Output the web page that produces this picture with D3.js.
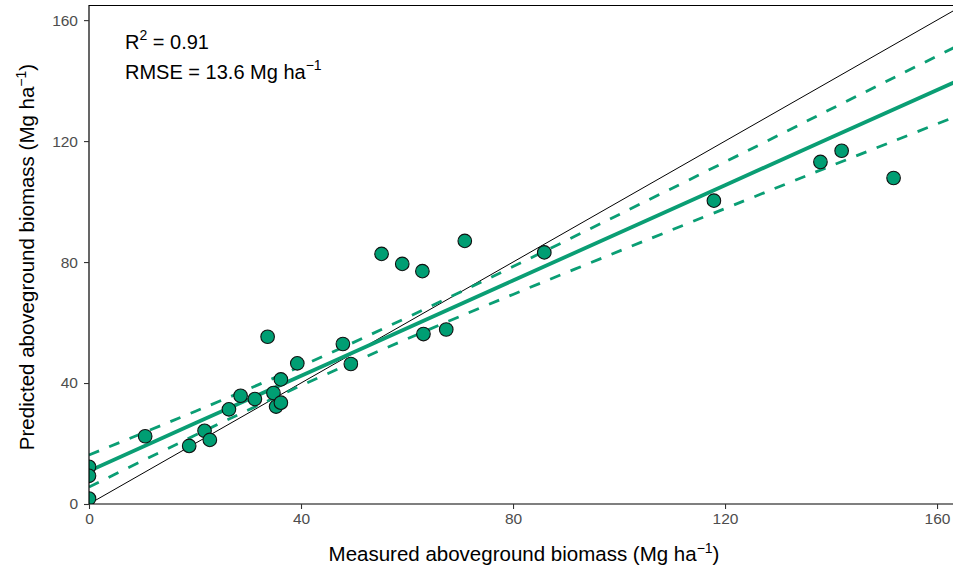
<!DOCTYPE html>
<html>
<head>
<meta charset="utf-8">
<script src="https://cdn.jsdelivr.net/npm/d3@7"></script>
<style>
  html, body { margin: 0; padding: 0; background: #fff; }
  svg { display: block; font-family: "Liberation Sans", Arial, sans-serif; }
</style>
</head>
<body>
<svg id="chart" width="953" height="567"></svg>
<script>
// ---- data: observations ----
const measured = [0, 0, 0, 10.6, 18.9, 21.8, 22.8, 26.4, 28.6, 31.3, 34.8, 35.3, 36.2, 36.2, 33.7, 39.3,
  47.9, 49.4, 55.2, 59.1, 62.9, 63.1, 67.4, 70.9, 85.9, 117.9, 138.0, 142.0, 151.8];
const predicted = [12.3, 9.3, 1.8, 22.4, 19.2, 24.2, 21.2, 31.3, 35.8, 34.7, 36.7, 32.2, 33.5, 41.2, 55.3, 46.5,
  52.9, 46.3, 82.7, 79.4, 77.0, 56.2, 57.7, 87.0, 83.2, 100.3, 113.1, 116.8, 107.8];
// ---- data: fitted regression line and 95% confidence limits ----
const fitX     = [0,    20,   45,   80,   120,   140,   163.2];
const fitMean  = [10.9, 26.7, 46.3, 73.9, 105.4, 121.2, 139.4];
const fitUpper = [16.2, 30.6, 49.5, 78.5, 113.1, 130.6, 150.9];
const fitLower = [5.6,  22.7, 43.1, 69.3, 97.7,  111.8, 127.9];
const xTicks = [0, 40, 80, 120, 160];
const yTicks = [0, 40, 80, 120, 160];
const r2Label = "0.91";
const rmseLabel = "13.6";

(function () {
const svg = d3.select("#chart");
const pLeft = 89, pTop = 5, pBottom = 504, pRight = 954;
const x = d3.scaleLinear().domain([0, 163.2]).range([pLeft, pRight]);
const y = d3.scaleLinear().domain([0, 165]).range([pBottom, pTop]);
const green = "#0A9E74";

svg.append("defs").append("clipPath").attr("id", "clip")
  .append("rect").attr("x", pLeft).attr("y", pTop).attr("width", pRight - pLeft).attr("height", pBottom - pTop);

const pts = measured.map((m, i) => ({ x: m, y: predicted[i] }));
const fit = fitX.map((v, i) => ({ x: v, mean: fitMean[i], hi: fitUpper[i], lo: fitLower[i] }));

const plot = svg.append("g").attr("clip-path", "url(#clip)");

// 1:1 line
plot.append("line")
  .attr("x1", x(0)).attr("y1", y(0)).attr("x2", x(170)).attr("y2", y(170))
  .attr("stroke", "#000").attr("stroke-width", 1);

const line = key => d3.line().curve(d3.curveNatural).x(d => x(d.x)).y(d => y(d[key]));
["hi", "lo"].forEach(k => {
  plot.append("path").datum(fit).attr("d", line(k))
    .attr("fill", "none").attr("stroke", green).attr("stroke-width", 2.8)
    .attr("stroke-dasharray", "11,11");
});
plot.append("path").datum(fit).attr("d", d3.line().x(d => x(d.x)).y(d => y(d.mean)))
  .attr("fill", "none").attr("stroke", green).attr("stroke-width", 3.8);

// points
plot.selectAll("circle").data(pts).join("circle")
  .attr("cx", d => x(d.x)).attr("cy", d => y(d.y)).attr("r", 6.8)
  .attr("fill", "#009E73").attr("stroke", "#111").attr("stroke-width", 1.1);

// panel top border
svg.append("line").attr("x1", pLeft).attr("x2", pRight).attr("y1", pTop + 0.5).attr("y2", pTop + 0.5)
  .attr("stroke", "#000").attr("stroke-width", 1);

// axes
const xAxis = svg.append("g").attr("transform", `translate(0,${pBottom})`)
  .call(d3.axisBottom(x).tickValues(xTicks).tickSize(5).tickPadding(4));
const yAxis = svg.append("g").attr("transform", `translate(${pLeft},0)`)
  .call(d3.axisLeft(y).tickValues(yTicks).tickSize(5).tickPadding(6));
[xAxis, yAxis].forEach(a => {
  a.select(".domain").attr("stroke", "#000").attr("stroke-width", 1.2);
  a.selectAll(".tick line").attr("stroke", "#333").attr("stroke-width", 1.1);
  a.selectAll(".tick text").attr("fill", "#4D4D4D").style("font-size", "15.5px")
    .style("font-family", "'Liberation Sans', Arial, sans-serif");
});
xAxis.select(".domain").attr("d", `M${pLeft},0H${pRight}`);
yAxis.select(".domain").attr("d", `M0,${pBottom}V${pTop}`);

// axis titles
const xt = svg.append("text").attr("x", 524).attr("y", 561).attr("text-anchor", "middle")
  .style("font-size", "20.5px").attr("fill", "#000");
xt.append("tspan").text("Measured aboveground biomass (Mg ha");
xt.append("tspan").text("\u22121").attr("dy", -8).style("font-size", "14px");
xt.append("tspan").text(")").attr("dy", 8);

const yt = svg.append("text").attr("transform", `translate(34,257) rotate(-90)`)
  .attr("text-anchor", "middle").style("font-size", "20.5px").attr("fill", "#000");
yt.append("tspan").text("Predicted aboveground biomass (Mg ha");
yt.append("tspan").text("\u22121").attr("dy", -8).style("font-size", "14px");
yt.append("tspan").text(")").attr("dy", 8);

// annotation
const a1 = svg.append("text").attr("x", 125).attr("y", 49).style("font-size", "20px").attr("fill", "#000");
a1.append("tspan").text("R");
a1.append("tspan").text("2").attr("dy", -9).style("font-size", "14px");
a1.append("tspan").text(" = " + r2Label).attr("dy", 9);

const a2 = svg.append("text").attr("x", 125).attr("y", 79).style("font-size", "20px").attr("fill", "#000");
a2.append("tspan").text("RMSE = " + rmseLabel + " Mg ha");
a2.append("tspan").text("\u22121").attr("dy", -9).style("font-size", "14px");
})();
</script>
</body>
</html>
